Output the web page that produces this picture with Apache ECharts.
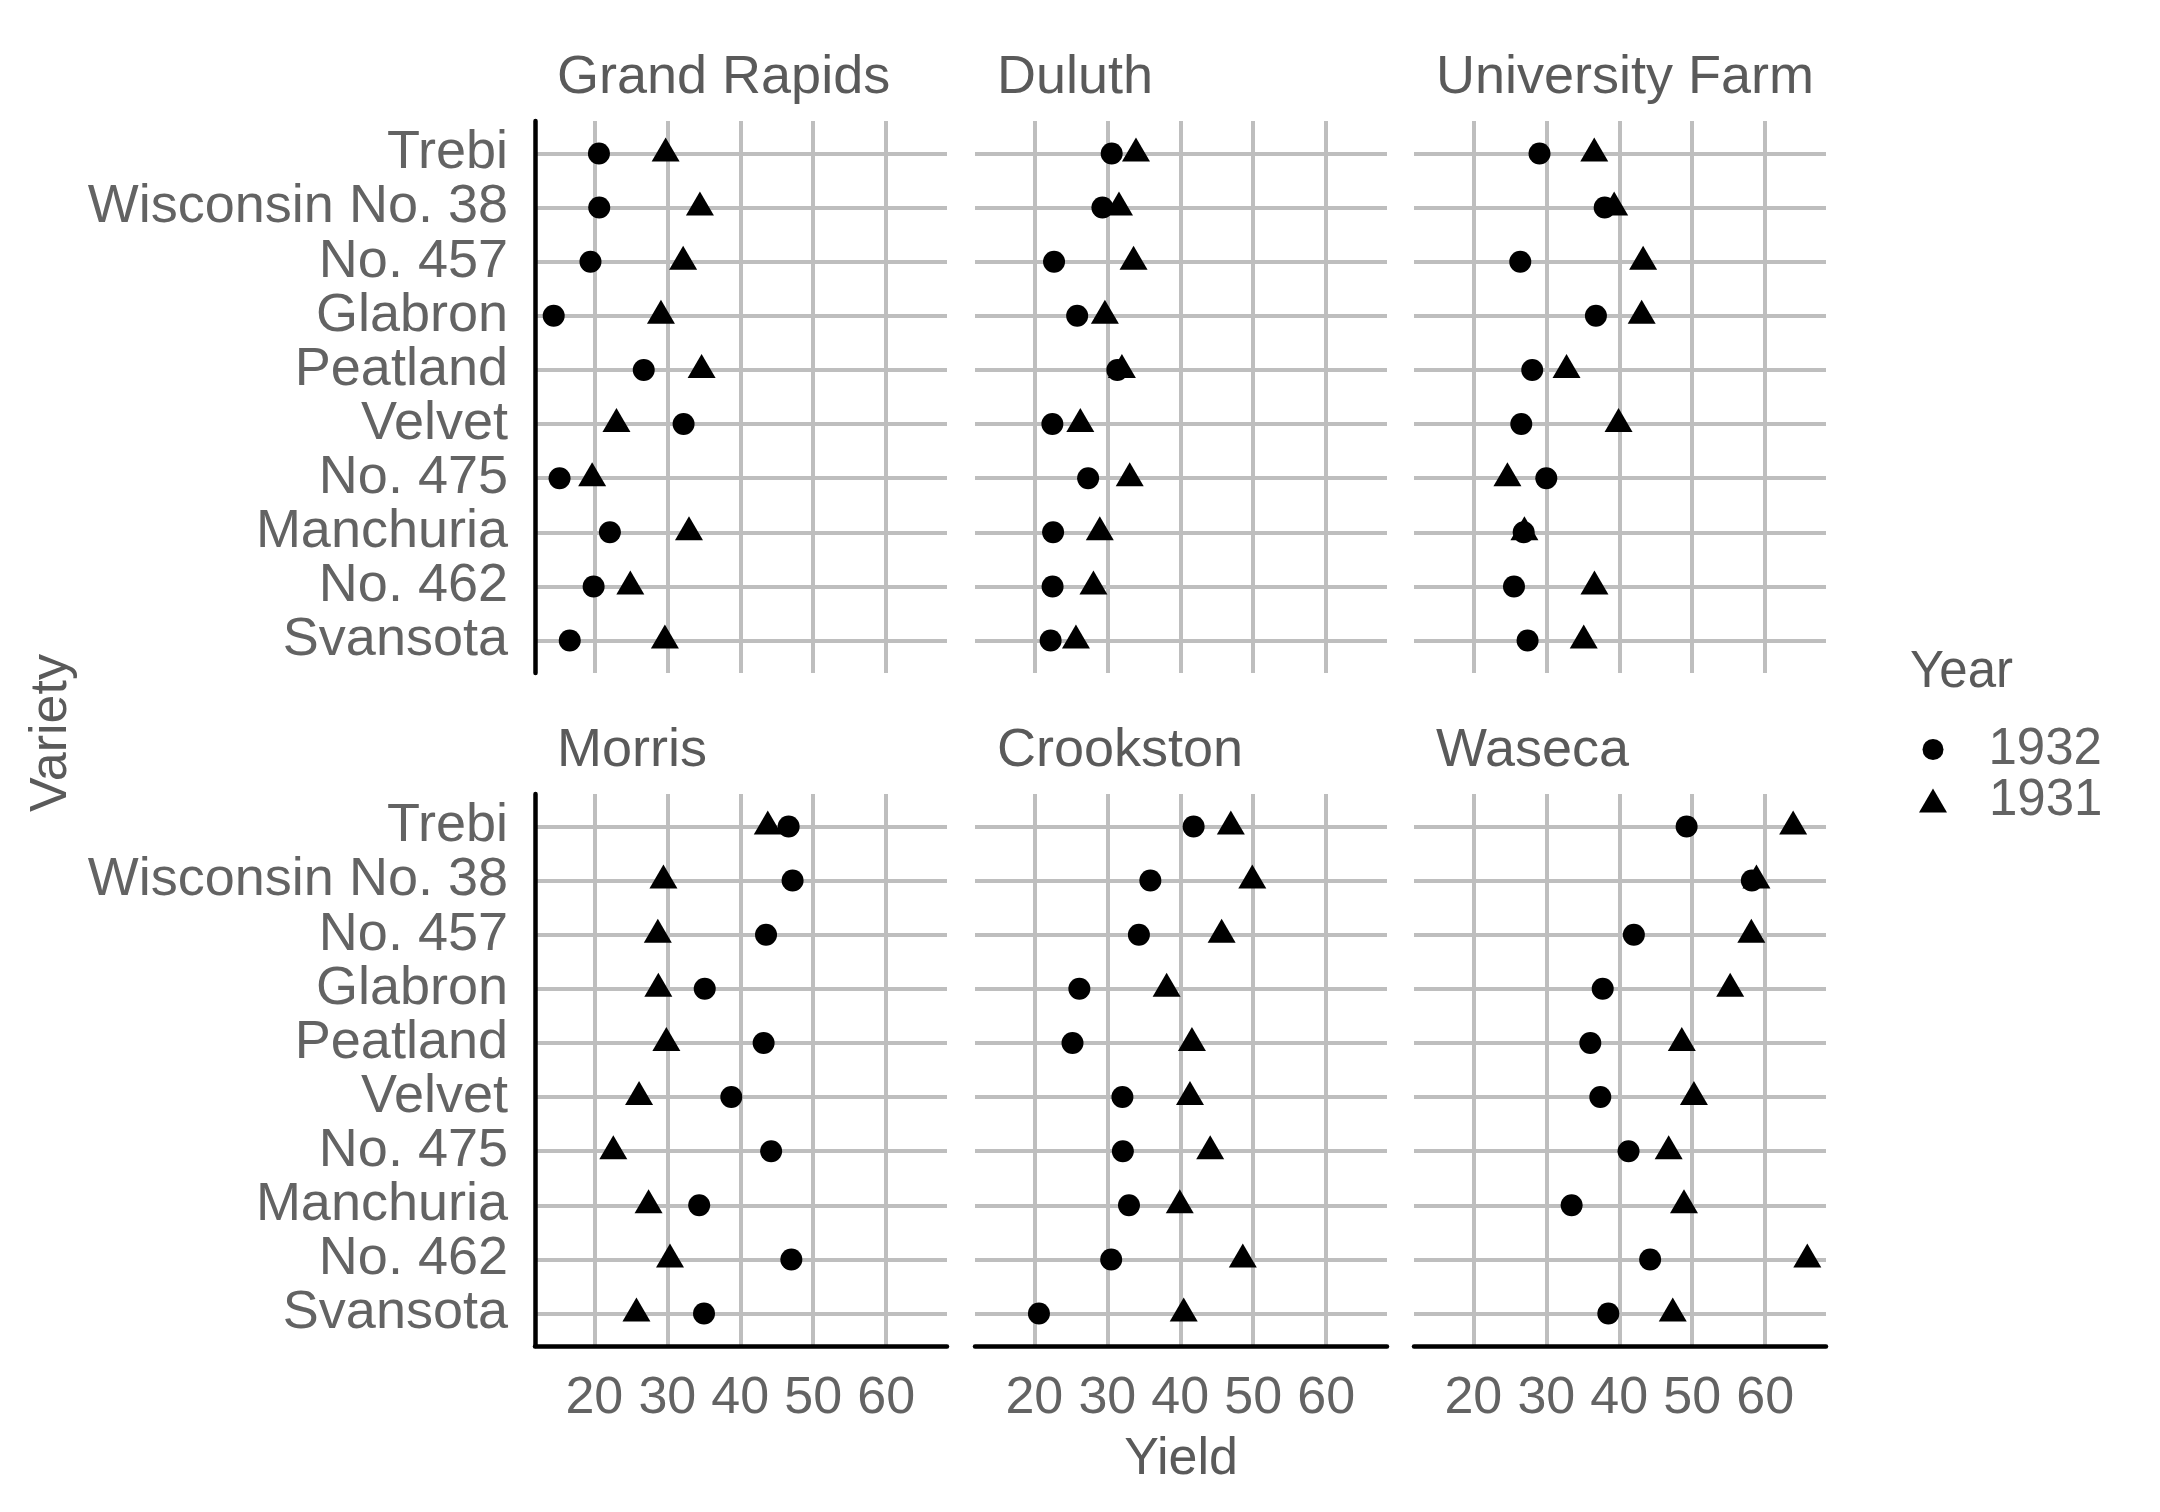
<!DOCTYPE html>
<html><head><meta charset="utf-8">
<script src="https://cdn.jsdelivr.net/npm/echarts@6/dist/echarts.min.js"></script>
<style>html,body{margin:0;padding:0;background:#fff}#c{width:2160px;height:1512px}</style>
</head><body><div id="c"></div>
<script>
// Categories, bottom to top
const varieties = ['Svansota','No. 462','Manchuria','No. 475','Velvet','Peatland','Glabron','No. 457','Wisconsin No. 38','Trebi'];
const sites = ['Grand Rapids','Duluth','University Farm','Morris','Crookston','Waseca'];
const xTicks = [20,30,40,50,60];
const years = ['1932','1931'];

// Yield 1932 (order = varieties)
const y1932_GrandRapids   = [16.63,19.90,22.13,15.23,32.23,26.77,14.43,19.47,20.67,20.63];
const y1932_Duluth        = [22.23,22.50,22.57,27.37,22.47,31.37,25.87,22.70,29.33,30.60];
const y1932_UniversityFarm= [27.43,25.57,26.90,30.00,26.57,28.07,36.80,26.43,38.00,29.07];
const y1932_Morris        = [35.03,47.00,34.37,44.23,38.77,43.20,35.13,43.53,47.17,46.63];
const y1932_Crookston     = [20.63,30.53,32.97,32.13,32.07,25.23,26.17,34.33,35.90,41.83];
const y1932_Waseca        = [38.50,44.23,33.47,41.27,37.40,36.03,37.73,42.00,58.17,49.23];
// Yield 1931
const y1931_GrandRapids   = [29.67,24.93,32.97,19.70,23.03,34.70,29.13,32.17,34.47,29.77];
const y1931_Duluth        = [25.70,28.10,28.97,33.07,26.30,32.00,29.67,33.60,31.60,33.93];
const y1931_UniversityFarm= [35.13,36.60,27.00,24.67,39.90,32.77,43.07,43.27,39.30,36.57];
const y1931_Morris        = [25.77,30.37,27.43,22.60,26.13,29.87,28.77,28.70,29.47,43.77];
const y1931_Crookston     = [40.47,48.57,39.93,44.10,41.33,41.60,38.13,45.67,49.87,46.93];
const y1931_Waseca        = [47.33,65.77,48.87,46.77,50.23,48.57,55.20,58.10,58.80,63.83];

const data1932 = [y1932_GrandRapids,y1932_Duluth,y1932_UniversityFarm,y1932_Morris,y1932_Crookston,y1932_Waseca];
const data1931 = [y1931_GrandRapids,y1931_Duluth,y1931_UniversityFarm,y1931_Morris,y1931_Crookston,y1931_Waseca];

const FONT = '"Liberation Sans", Arial, Helvetica, sans-serif';
const colLeft = [535, 975, 1414], rowTop = [121, 794], W = 412, H = 552;
const xMin = 11.8667, xMax = 68.3333;
const yTicks = varieties.map((v, i) => i + 1);
const GRID = '#BEBEBE', TXT = '#5A5A5A', TICK = '#636363';

const grid = [], xAxis = [], yAxis = [], series = [], graphic = [];
sites.forEach((s, i) => {
  const r = Math.floor(i / 3), c = i % 3;
  grid.push({left: colLeft[c], top: rowTop[r], width: W, height: H});
  xAxis.push({
    type: 'value', gridIndex: i, min: xMin, max: xMax,
    axisLine: {show: r === 1, onZero: false, lineStyle: {color: '#000', width: 4.5}},
    axisTick: {show: false, customValues: xTicks},
    axisLabel: {show: r === 1, customValues: xTicks, margin: 27, fontSize: 52, color: TICK, fontFamily: FONT},
    splitLine: {show: true, lineStyle: {color: GRID, width: 4}}
  });
  yAxis.push({
    type: 'value', gridIndex: i, min: 0.4, max: 10.6,
    axisLine: {show: c === 0, onZero: false, lineStyle: {color: '#000', width: 4.5}},
    axisTick: {show: false, customValues: yTicks},
    axisLabel: {show: c === 0, customValues: yTicks, margin: 27, fontSize: 54, color: TICK, fontFamily: FONT,
      padding: [10, 0, 0, 0], formatter: v => varieties[Math.round(v) - 1]},
    splitLine: {show: true, lineStyle: {color: GRID, width: 4}}
  });
  series.push({
    type: 'scatter', name: years[0], xAxisIndex: i, yAxisIndex: i, symbol: 'circle', symbolSize: 22,
    itemStyle: {color: '#000', opacity: 1}, silent: true, z: 3,
    data: data1932[i].map((v, k) => [v, k + 1])
  });
  series.push({
    type: 'scatter', name: years[1], xAxisIndex: i, yAxisIndex: i, symbol: 'triangle', symbolSize: [28, 24],
    symbolOffset: [0, -4], itemStyle: {color: '#000', opacity: 1}, silent: true, z: 3,
    data: data1931[i].map((v, k) => [v, k + 1])
  });
  graphic.push({type: 'text', left: colLeft[c] + 22, top: rowTop[r] - 70, silent: true,
    style: {text: s, font: '54px ' + FONT, fill: TXT}});
});

graphic.push({type: 'text', x: 1181, y: 1460, silent: true,
  style: {text: 'Yield', font: '52px ' + FONT, fill: TXT, align: 'center', verticalAlign: 'middle'}});
graphic.push({type: 'text', x: 52, y: 733, rotation: Math.PI / 2, silent: true,
  style: {text: 'Variety', font: '52px ' + FONT, fill: TXT, align: 'center', verticalAlign: 'middle'}});
graphic.push({type: 'text', x: 1910, y: 673, silent: true,
  style: {text: 'Year', font: '51px ' + FONT, fill: TXT, align: 'left', verticalAlign: 'middle'}});

const legendText = {fontSize: 51, color: TICK, fontFamily: FONT};
const legend = [
  {data: [{name: years[0], icon: 'circle'}], left: 1922.5, top: 724, padding: 0, itemWidth: 21, itemHeight: 21,
   selectedMode: false, textStyle: Object.assign({padding: [0, 0, 0, 40]}, legendText), itemStyle: {color: '#000'}},
  {data: [{name: years[1], icon: 'triangle'}], left: 1919, top: 775, padding: 0, itemWidth: 28, itemHeight: 24,
   selectedMode: false, textStyle: Object.assign({padding: [0, 0, 0, 37]}, legendText), itemStyle: {color: '#000'}}
];

const chart = echarts.init(document.getElementById('c'), null, {renderer: 'canvas'});
chart.setOption({animation: false, backgroundColor: '#fff', grid, xAxis, yAxis, series, graphic, legend});
</script></body></html>
